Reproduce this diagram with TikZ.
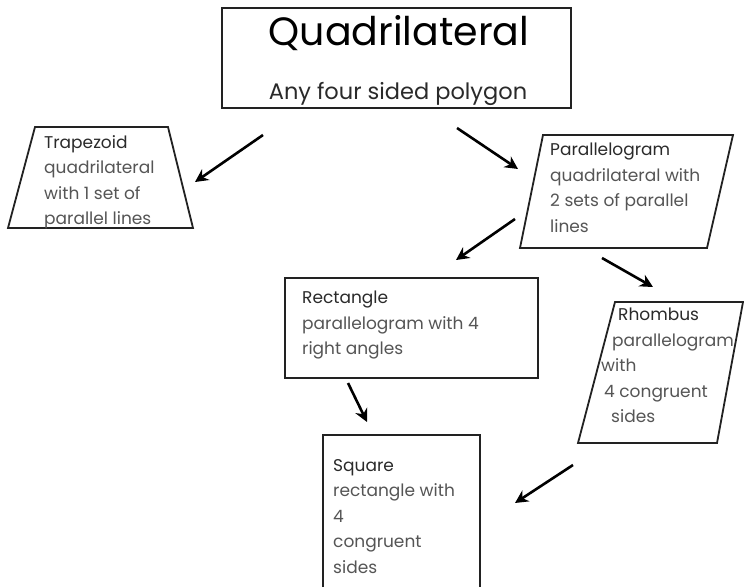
\documentclass[tikz,border=0pt]{standalone}
\usepackage{fontspec}
\setmainfont{Poppins}
\usetikzlibrary{arrows.meta}
\definecolor{boxline}{HTML}{222222}
\definecolor{headtxt}{HTML}{2A2A2A}
\definecolor{bodytxt}{HTML}{555555}
\begin{document}
\begin{tikzpicture}[x=1pt,y=-1pt,
  shapeline/.style={draw=boxline,line width=1.8pt,line join=miter},
  txt/.style={anchor=north west,inner sep=0pt,align=left,text=bodytxt,
    font=\fontsize{17}{25.5}\selectfont},
  conn/.style={draw=black,line width=2.6pt,-{Stealth[length=13pt,width=13pt]}}]
\useasboundingbox (0,0) rectangle (744,587);
\fill[white] (0,0) rectangle (744,587);
% top box
\draw[shapeline] (222,8) rectangle (571,108);
\node[anchor=center,inner sep=0pt,font=\fontsize{39.5}{42}\selectfont,text=black] (title) at (399,33) {Quadrilateral};
\node[anchor=center,inner sep=0pt,font=\fontsize{22.5}{25}\selectfont,text=headtxt] (subtitle) at (398,94) {Any four sided polygon};
% trapezoid
\draw[shapeline] (35,127) -- (168,127) -- (193,228) -- (8,228) -- cycle;
\node[txt] (trap) at (44,135) {\textcolor{headtxt}{Trapezoid}\\quadrilateral\\with 1 set of\\parallel lines};
% parallelogram
\draw[shapeline] (543,135) -- (733,135) -- (707,248) -- (520,248) -- cycle;
\node[txt] (para) at (550,143) {\textcolor{headtxt}{Parallelogram}\\quadrilateral with\\2 sets of parallel\\lines};
% rectangle
\draw[shapeline] (285,278) rectangle (538,378);
\node[txt] (rect) at (302,291) {\textcolor{headtxt}{Rectangle}\\parallelogram with 4\\right angles};
% rhombus
\draw[shapeline] (615,302) -- (743,302) -- (717,443) -- (578,443) -- cycle;
\node[txt] (rhom) at (601,308) {\hspace*{17pt}\textcolor{headtxt}{Rhombus}\\\hspace*{11pt}parallelogram\\with\\\hspace*{3pt}4 congruent\\\hspace*{10pt}sides};
% square
\draw[shapeline] (323,587) -- (323,435) -- (480,435) -- (480,587);
\node[txt] (squ) at (333,459) {\textcolor{headtxt}{Square}\\rectangle with\\4\\congruent\\sides};
% arrows
\coordinate (a1s) at (263,135); \coordinate (a1e) at (195,182);
\coordinate (a2s) at (457,128); \coordinate (a2e) at (518,169);
\coordinate (a3s) at (515,219); \coordinate (a3e) at (456,260);
\coordinate (a4s) at (602,258); \coordinate (a4e) at (653,287);
\coordinate (a5s) at (348,383); \coordinate (a5e) at (367,422);
\coordinate (a6s) at (573,465); \coordinate (a6e) at (515,503);
\draw[conn] (a1s) -- (a1e);
\draw[conn] (a2s) -- (a2e);
\draw[conn] (a3s) -- (a3e);
\draw[conn] (a4s) -- (a4e);
\draw[conn] (a5s) -- (a5e);
\draw[conn] (a6s) -- (a6e);
\end{tikzpicture}
\end{document}
